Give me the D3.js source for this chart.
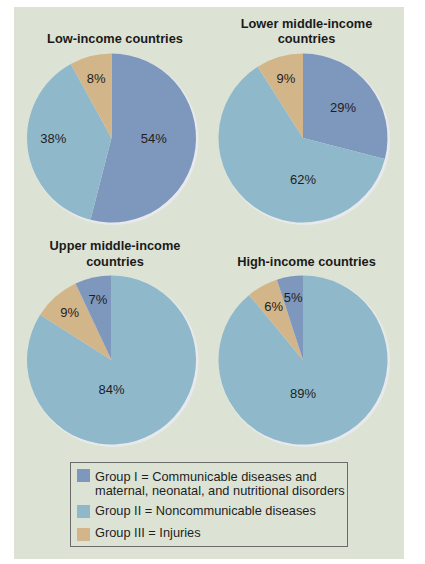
<!DOCTYPE html>
<html>
<head>
<meta charset="utf-8">
<script src="https://cdn.jsdelivr.net/npm/d3@7"></script>
<style>
  body { margin: 0; background: #fff; }
  svg { display: block; font-family: "Liberation Sans", Arial, Helvetica, sans-serif; }
</style>
</head>
<body>
<div id="here"></div>
<script>
// DATA
const groups = ["Group I", "Group II", "Group III"];
const panelTitles = [
  ["Low-income countries"],
  ["Lower middle-income", "countries"],
  ["Upper middle-income", "countries"],
  ["High-income countries"]
];
const groupI = [54, 29, 7, 5];
const groupII = [38, 62, 84, 89];
const groupIII = [8, 9, 9, 6];
// clockwise order of slices from 12 o'clock, per panel
const sliceOrder = [[0, 1, 2], [0, 1, 2], [1, 2, 0], [1, 2, 0]];
const legendLines = [
  ["Group I = Communicable diseases and", "maternal, neonatal, and nutritional disorders"],
  ["Group II = Noncommunicable diseases"],
  ["Group III = Injuries"]
];

// LAYOUT
const width = 425, height = 564;
const colors = ["#7d97bd", "#8fb9ca", "#d3b58a"];
const centers = [[111.5, 138], [303, 138], [111.5, 360], [303, 360]];
const radius = 84.5;
// label distance from centre, as a fraction of the radius (per group)
const labelR = [[0.5, 0.69, 0.73], [0.6, 0.49, 0.73], [0.74, 0.35, 0.75], [0.75, 0.39, 0.72]];
const titleY = [[43], [28, 43], [250, 266], [266]];

const svg = d3.select("#here").append("svg")
  .attr("width", width)
  .attr("height", height);

svg.append("rect")
  .attr("x", 14).attr("y", 7)
  .attr("width", 390).attr("height", 552)
  .attr("fill", "#dde3d4");

const color = d3.scaleOrdinal().domain(groups).range(colors);

const pie = d3.pie()
  .sort(null)
  .value(d => d.value);

const arc = d3.arc().innerRadius(0).outerRadius(radius);

panelTitles.forEach(function(title, i) {
  const data = sliceOrder[i].map(function(g) {
    return { group: g, name: groups[g], value: [groupI, groupII, groupIII][g][i] };
  });
  const [cx, cy] = centers[i];
  const g = svg.append("g").attr("transform", `translate(${cx},${cy})`);

  // soft shadow rim
  g.append("circle")
    .attr("cx", 1.5).attr("cy", 1.5)
    .attr("r", radius + 1)
    .attr("fill", "#e7e9ec");

  const arcs = pie(data);

  g.selectAll("path")
    .data(arcs)
    .enter()
    .append("path")
    .attr("d", arc)
    .attr("fill", d => color(d.data.name));

  g.selectAll("text.pct")
    .data(arcs)
    .enter()
    .append("text")
    .attr("class", "pct")
    .attr("transform", function(d) {
      let a = (d.startAngle + d.endAngle) / 2;
      // big slices: label straight below; medium ones: level with the centre
      if (d.data.value > 55) a = Math.PI;
      else if (d.data.value > 30) a = Math.sin(a) > 0 ? Math.PI / 2 : 1.5 * Math.PI;
      const r = radius * labelR[i][d.data.group];
      return `translate(${Math.sin(a) * r},${-Math.cos(a) * r})`;
    })
    .attr("text-anchor", "middle")
    .attr("dy", "0.36em")
    .attr("font-size", 13)
    .attr("fill", "#1e1e1e")
    .text(d => d.data.value + "%");

  svg.selectAll(null)
    .data(title)
    .enter()
    .append("text")
    .attr("x", cx + 3.5)
    .attr("y", (d, k) => titleY[i][k])
    .attr("text-anchor", "middle")
    .attr("font-size", 12.8)
    .attr("font-weight", "bold")
    .attr("fill", "#1a1a1a")
    .text(d => d);
});

// LEGEND
const legend = svg.append("g");
legend.append("rect")
  .attr("x", 70.5).attr("y", 462.5)
  .attr("width", 277).attr("height", 84)
  .attr("fill", "none")
  .attr("stroke", "#6b6b6b")
  .attr("stroke-width", 1);

const swatchY = [469, 505, 528];
const lineY = [[481, 495], [515], [537]];

groups.forEach(function(name, k) {
  legend.append("rect")
    .attr("x", 77).attr("y", swatchY[k])
    .attr("width", 13).attr("height", 13)
    .attr("fill", color(name));
  legendLines[k].forEach(function(line, j) {
    legend.append("text")
      .attr("x", 95)
      .attr("y", lineY[k][j])
      .attr("font-size", 12.8)
      .attr("fill", "#1e1e1e")
      .text(line);
  });
});
</script>
</body>
</html>
